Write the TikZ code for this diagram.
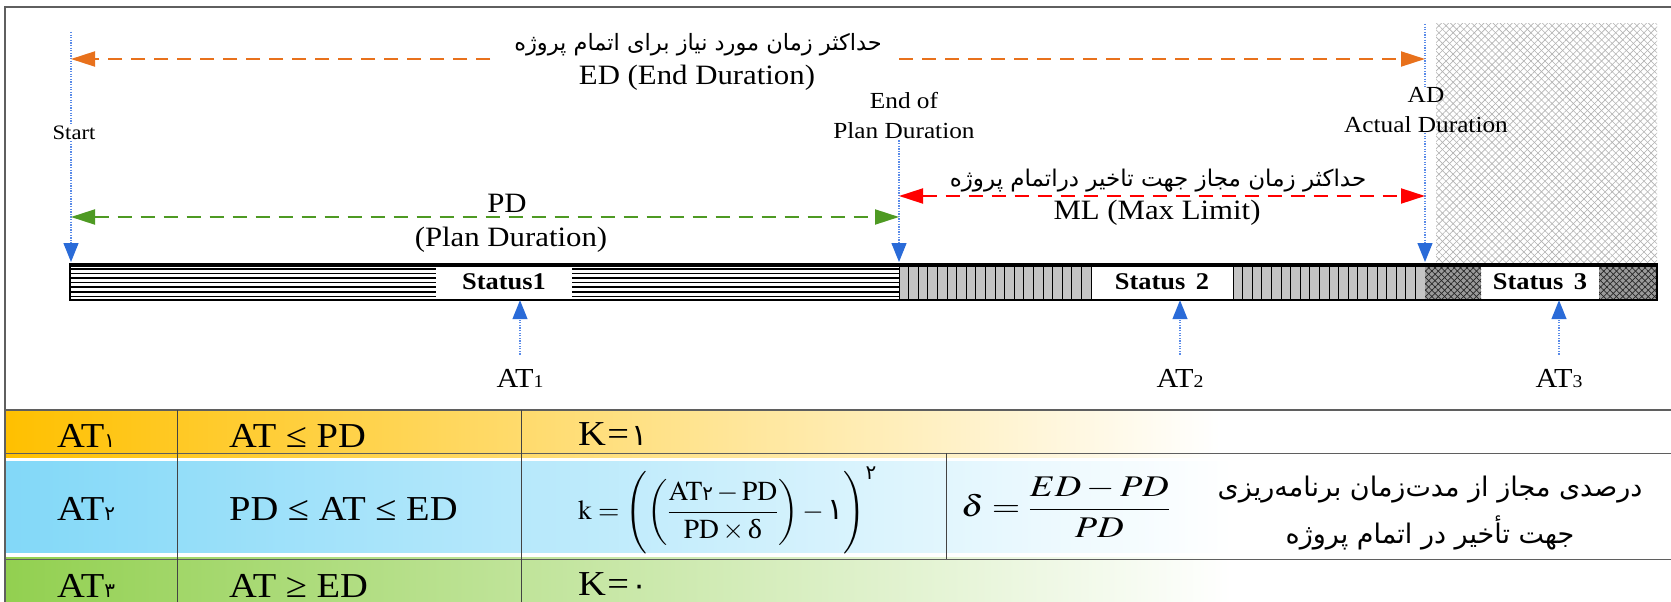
\documentclass[tikz,border=0pt]{standalone}
\usepackage{graphicx}
\usepackage{mathptmx}
\usepackage{fontspec}
\setmainfont[FakeStretch=1.1]{Liberation Serif}
\newfontfamily\arabicfont[Script=Arabic]{DejaVu Sans}
\TeXXeTstate=1
\usetikzlibrary{arrows.meta,patterns.meta}
\definecolor{orangeA}{HTML}{E8711C}
\definecolor{greenA}{HTML}{4E9A23}
\definecolor{redA}{HTML}{FF0000}
\definecolor{blueA}{HTML}{2A6BD8}
\definecolor{blueDot}{HTML}{5A8BE8}
\definecolor{frameC}{HTML}{5F5F5F}
\definecolor{goldA}{HTML}{FFC000}
\definecolor{goldB}{HTML}{FFDF80}
\definecolor{skyA}{HTML}{82D8F8}
\definecolor{skyB}{HTML}{BDEBFB}
\definecolor{grnA}{HTML}{92D050}
\definecolor{grnB}{HTML}{C6E5A6}
\definecolor{barGray}{HTML}{C4C4C4}
\definecolor{barDark}{HTML}{9A9A9A}
\newcommand\fad[1]{{\arabicfont\fontsize{20}{20}\selectfont #1}}
\newcommand\fab[1]{{\arabicfont\fontsize{30}{30}\selectfont #1}}
\begin{document}
\begin{tikzpicture}[x=1pt,y=-1pt,
  lbl/.style={inner sep=1pt, font=\fontsize{28}{32}\selectfont},
  lblsm/.style={inner sep=1pt, font=\fontsize{23}{30}\selectfont, align=center},
  fa/.style={inner sep=1pt, font=\arabicfont\fontsize{22.5}{26}\selectfont},
  tcell/.style={inner sep=0pt, font=\fontsize{35}{40}\selectfont},
  atlbl/.style={inner sep=2pt, font=\fontsize{27.5}{30}\selectfont},
  statbox/.style={inner sep=0pt, minimum height=36pt, font=\bfseries\fontsize{24}{24}\selectfont},
  bluedot/.style={draw=blueDot, line width=1.3pt, dash pattern=on 1.3pt off 1.3pt},
  bluetip/.style={-{Triangle[length=19pt,width=15pt,color=blueA]}},
  dimline/.style={line width=2pt, dash pattern=on 14pt off 9pt},
  dtip/.style={-{Triangle[length=24pt,width=15pt]}},
  ddtip/.style={{Triangle[length=24pt,width=15pt]}-{Triangle[length=24pt,width=15pt]}}
]
\useasboundingbox (0,0) rectangle (1671,602);
\fill[white] (0,0) rectangle (1671,602);

% ---- table fills
\shade[left color=goldA, middle color=goldB, right color=white] (5,410) rectangle (1220,457);
\shade[left color=skyA, middle color=skyB, right color=white] (5,461) rectangle (1232,552);
\shade[left color=grnA, middle color=grnB, right color=white] (5,557) rectangle (1232,602);

% ---- frame and table lines
\draw[frameC, line width=1.3pt] (1671,7) -- (5,7) -- (5,602);
\draw[frameC, line width=1.3pt] (5,410) -- (1671,410);
\draw[frameC, line width=1pt] (5,453) -- (1671,453);
\draw[frameC, line width=1pt] (5,559) -- (1671,559);
\draw[frameC!70!black, line width=1pt] (177,410) -- (177,602) (521,410) -- (521,602) (946,453) -- (946,559);

% ---- light hatched area (after AD)
\fill[pattern={Lines[angle=45,distance=5pt,line width=0.6pt]}, pattern color=gray!60] (1436,24) rectangle (1657,263);
\fill[pattern={Lines[angle=-45,distance=5pt,line width=0.6pt]}, pattern color=gray!60] (1436,24) rectangle (1657,263);

% ---- status bar
\fill[white] (70,264) rectangle (1657,300);
\foreach \yy in {268.8,273.4,278,282.6,287.2,291.8,296.4}{
  \draw[line width=1.5pt] (70,\yy) -- (436,\yy) (572,\yy) -- (899,\yy);
}
\fill[barGray] (899,264) rectangle (1091,300);
\fill[barGray] (1233,264) rectangle (1425,300);
\foreach \i in {0,...,20}{
  \draw[line width=0.9pt] ({899+\i*9.6},264) -- ++(0,36);
  \draw[line width=0.9pt] ({1233+\i*9.6},264) -- ++(0,36);
}
\foreach \xa/\xb in {1425/1481,1599/1657}{
  \fill[barDark] (\xa,264) rectangle (\xb,300);
  \fill[pattern={Lines[angle=45,distance=4.5pt,line width=0.7pt]}, pattern color=black!85] (\xa,264) rectangle (\xb,300);
  \fill[pattern={Lines[angle=-45,distance=4.5pt,line width=0.7pt]}, pattern color=black!85] (\xa,264) rectangle (\xb,300);
}
\draw[line width=1.2pt] (70,264) rectangle (1657,300);
\draw[line width=3.5pt] (70,265) -- (1657,265);

\node[statbox, minimum width=136pt] (st1) at (504,282) {Status1};
\node[statbox, minimum width=142pt] (st2) at (1162,282) {Status\ \,2};
\node[statbox, minimum width=118pt] (st3) at (1540,282) {Status\ \,3};

% ---- vertical markers
\coordinate (sTop) at (71,32);
\coordinate (sBar) at (71,262);
\node[inner sep=1pt, font=\fontsize{20.5}{22}\selectfont] (startlbl) at (74,133) {Start};
\draw[bluedot] (sTop) -- (sTop |- startlbl.north);
\draw[bluedot, bluetip] (sBar |- startlbl.south) -- (sBar);

\node[lblsm] (eop) at (904,116) {End of\\Plan Duration};
\coordinate (pBar) at (899,262);
\draw[bluedot, bluetip] (pBar |- eop.south) -- (pBar);

\coordinate (aTop) at (1425,24);
\coordinate (aBar) at (1425,262);
\node[lblsm, inner sep=0pt] (adl) at (1426,110) {AD\\Actual Duration};
\draw[bluedot] (aTop) -- (aTop |- adl.north);
\draw[bluedot, bluetip] (aBar |- adl.south) -- (aBar);

% ---- orange: ED
\node[fa] (edfa) at (698,45) {\beginR حداکثر زمان مورد نیاز برای اتمام پروژه\endR};
\node[lbl] (edl) at (697,78) {ED (End Duration)};
\coordinate (oL) at (490,59);
\coordinate (oR) at (899,59);
\draw[dimline, orangeA, dtip] (oL) -- (sTop |- oL);
\draw[dimline, orangeA, dtip] (oR) -- (aTop |- oR);

% ---- green: PD
\coordinate (gL) at (71,217);
\coordinate (gR) at (899,217);
\draw[dimline, greenA, ddtip] (gL) -- (gR);
\node[lbl] (pdl) at (507,203) {PD};
\node[lbl] (pdl2) at (511,240) {(Plan Duration)};

% ---- red: ML
\coordinate (rL) at (899,196);
\coordinate (rR) at (1425,196);
\draw[dimline, redA, ddtip] (rL) -- (rR);
\node[fa, font=\arabicfont\fontsize{23}{26}\selectfont] (mlfa) at (1158,181) {\beginR حداکثر زمان مجاز جهت تاخیر دراتمام پروژه\endR};
\node[lbl] (mll) at (1157,213) {ML (Max Limit)};

% ---- AT markers
\node[atlbl, anchor=base] (at1) at (520,387) {AT{\fontsize{18}{18}\selectfont 1}};
\node[atlbl, anchor=base] (at2) at (1180,387) {AT{\fontsize{18}{18}\selectfont 2}};
\node[atlbl, anchor=base] (at3) at (1559,387) {AT{\fontsize{18}{18}\selectfont 3}};
\draw[bluedot, bluetip] ([yshift=12pt]at1.north) -- (at1.north |- st1.south);
\draw[bluedot, bluetip] ([yshift=12pt]at2.north) -- (at2.north |- st2.south);
\draw[bluedot, bluetip] ([yshift=12pt]at3.north) -- (at3.north |- st3.south);

% ---- table texts
\node[tcell, anchor=base west] (r1a) at (57,447) {AT\fad{۱}};
\node[tcell, anchor=base west] (r1b) at (229,447) {AT ≤ PD};
\node[tcell, anchor=base west] (r1c) at (578,445) {K\kern1.5pt=\kern2pt\fab{۱}};

\node[tcell, anchor=base west] (r2a) at (57,520) {AT\fad{۲}};
\node[tcell, anchor=base west] (r2b) at (229,520) {PD ≤ AT ≤ ED};
\node[inner sep=0pt, anchor=west] (r2c) at (578,510) {\fontsize{27.5}{32}\selectfont$\displaystyle \mathrm{k}=\Biggl(\left(\frac{\mathrm{AT}\mbox{\fad{۲}}-\mathrm{PD}}{\mathrm{PD}\times\mbox{δ}}\right)-\mbox{\fab{۱}}\Biggr)^{\mbox{\fad{۲}}}$};
\node[inner sep=0pt, anchor=west] (r2d) at (961,507) {\scalebox{1.22}[1]{\fontsize{30}{34}\selectfont$\displaystyle \delta=\frac{ED-PD}{PD}$}};
\node[align=center, inner sep=0pt, font=\arabicfont\fontsize{27}{47}\selectfont] (r2e) at (1430,513) {\beginR درصدی مجاز از مدت‌زمان برنامه‌ریزی\endR\\\beginR جهت تأخیر در اتمام پروژه\endR};

\node[tcell, anchor=base west] (r3a) at (57,597) {AT\fad{۳}};
\node[tcell, anchor=base west] (r3b) at (229,597) {AT ≥ ED};
\node[tcell, anchor=base west] (r3c) at (578,595) {K\kern1.5pt=\kern2pt\fab{۰}};
\end{tikzpicture}
\end{document}
